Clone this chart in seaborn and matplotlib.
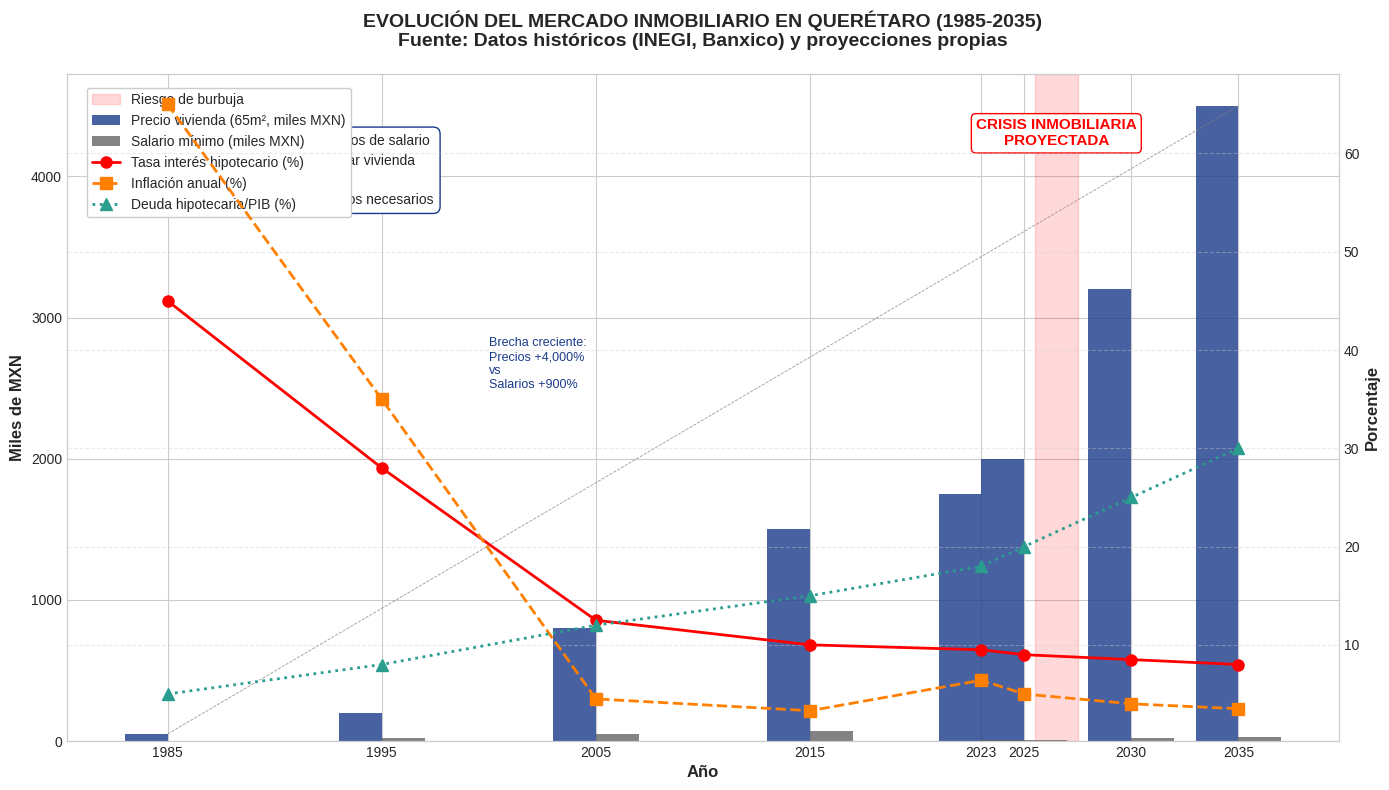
import numpy as np
import matplotlib
matplotlib.use("Agg")
import matplotlib.pyplot as plt
import seaborn as sns

# --- Datos ---
years = [1985, 1995, 2005, 2015, 2023, 2025, 2030, 2035]
precio_vivienda = [50, 200, 800, 1500, 1750, 2000, 3200, 4500]   # miles MXN
salario_minimo = [3, 20, 50, 70, 8, 10, 20, 25]                  # miles MXN
tasa_interes = [45, 28, 12.5, 10, 9.5, 9, 8.5, 8]                # %
inflacion = [65, 35, 4.5, 3.3, 6.4, 5, 4, 3.5]                   # %
deuda_pib = [5, 8, 12, 15, 18, 20, 25, 30]                       # %
burbuja = (2025.5, 2027.5)

sns.set_style("whitegrid")
plt.rcParams['font.family'] = ['Liberation Sans', 'DejaVu Sans']

fig, ax = plt.subplots(figsize=(13.89, 7.9), dpi=100)
fig.subplots_adjust(left=0.0482, right=0.964, top=0.9063, bottom=0.062)

x = np.array(years)
w = 2
ax.axvspan(*burbuja, color='red', alpha=0.15, label='Riesgo de burbuja')
ax.bar(x - w / 2, precio_vivienda, width=w, color='#1a3a8a', alpha=0.8,
       linewidth=0, label='Precio vivienda (65m², miles MXN)')
ax.bar(x + w / 2, salario_minimo, width=w, color='#5a5a5a', alpha=0.75,
       linewidth=0, label='Salario mínimo (miles MXN)')
# tendencia precio
ax.plot([years[0], years[-1]], [precio_vivienda[0], precio_vivienda[-1]],
        color='gray', linestyle='--', linewidth=0.6, alpha=0.8)

ax.set_xticks(years)
ax.set_xlabel('Año', fontsize=12, fontweight='bold')
ax.set_ylabel('Miles de MXN', fontsize=12, fontweight='bold')

ax2 = ax.twinx()
ax2.plot(years, tasa_interes, color='red', marker='o', markersize=8,
         linewidth=2, label='Tasa interés hipotecario (%)')
ax2.plot(years, inflacion, color='#ff7f00', marker='s', markersize=8,
         linewidth=2, linestyle='--', label='Inflación anual (%)')
ax2.plot(years, deuda_pib, color='#2a9d8f', marker='^', markersize=9,
         linewidth=2, linestyle=':', label='Deuda hipotecaria/PIB (%)')
ax2.set_ylabel('Porcentaje', fontsize=12, fontweight='bold')
ax2.grid(True, linestyle='--', alpha=0.4)
ax2.grid(False, axis='x')

for a in (ax, ax2):
    a.tick_params(length=0)

# anotaciones
ax.text(1997.4, 4300,
        "1985: 12.5 años de salario\ny para comprar vivienda\n2025: 25\n2035: 30+ años necesarios",
        ha='right', va='top', multialignment='left', fontsize=10, linespacing=1.5,
        bbox=dict(boxstyle='round,pad=0.5', facecolor='white', edgecolor='#1a3a8a'))
ax.text(2000, 2670, "Brecha creciente:\nPrecios +4,000%\nvs\nSalarios +900%",
        fontsize=9, color='#1a3a8a', va='center', ha='left')
ax.text(2026.5, 4305, "CRISIS INMOBILIARIA\nPROYECTADA", fontsize=11,
        fontweight='bold', color='red', ha='center', va='center',
        bbox=dict(boxstyle='round,pad=0.3', facecolor='white', edgecolor='red'))

h1, l1 = ax.get_legend_handles_labels()
h2, l2 = ax2.get_legend_handles_labels()
ax.legend(h1 + h2, l1 + l2, loc='upper left', bbox_to_anchor=(0.01, 0.99),
          fontsize=10, frameon=True, framealpha=1)

ax.set_title("EVOLUCIÓN DEL MERCADO INMOBILIARIO EN QUERÉTARO (1985-2035)\n"
             "Fuente: Datos históricos (INEGI, Banxico) y proyecciones propias",
             fontsize=14, fontweight='bold', pad=20)

fig.savefig('out.png', dpi=100)
plt.close(fig)
